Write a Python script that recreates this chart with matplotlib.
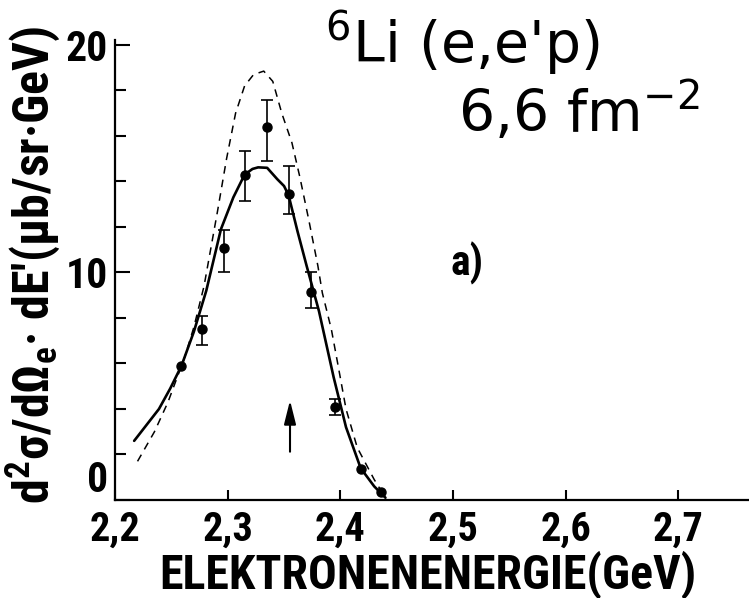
import matplotlib
matplotlib.use("Agg")
import matplotlib.pyplot as plt
from matplotlib import font_manager
from matplotlib.transforms import ScaledTranslation
import numpy as np

# ---- data ----
pt_x = [2.259, 2.277, 2.297, 2.315, 2.335, 2.354, 2.374, 2.395, 2.418, 2.436]
pt_y = [5.9, 7.5, 11.06, 14.3, 16.4, 13.45, 9.16, 4.07, 1.36, 0.35]
err_lo = [0.0, 0.67, 1.03, 1.17, 1.52, 0.9, 0.7, 0.35, 0.0, 0.0]
err_hi = [0.0, 0.59, 0.79, 1.02, 1.17, 1.25, 0.84, 0.36, 0.0, 0.0]

solid_x = [2.217, 2.228, 2.239, 2.249, 2.259, 2.270, 2.281, 2.294, 2.305, 2.315,
           2.322, 2.327, 2.335, 2.344, 2.350, 2.354, 2.362, 2.370, 2.381, 2.394,
           2.405, 2.418, 2.430, 2.440]
solid_y = [2.6, 3.3, 4.0, 4.9, 5.9, 7.4, 9.2, 11.9, 13.3, 14.3,
           14.55, 14.62, 14.6, 14.1, 13.8, 13.4, 11.8, 10.3, 8.3, 5.4,
           3.2, 1.4, 0.6, 0.1]

dash_x = [2.220, 2.235, 2.247, 2.253, 2.262, 2.270, 2.279, 2.291, 2.299, 2.307,
          2.315, 2.323, 2.332, 2.340, 2.348, 2.357, 2.364, 2.372, 2.380, 2.384,
          2.392, 2.398, 2.405, 2.415, 2.430, 2.440]
dash_y = [1.7, 3.0, 4.3, 5.1, 6.3, 7.6, 9.4, 12.7, 15.0, 17.0,
          18.2, 18.7, 18.85, 18.4, 17.0, 15.7, 14.2, 12.3, 10.3, 9.1,
          7.5, 5.9, 4.0, 2.3, 0.9, 0.1]

arrow_x = 2.3553
arrow_y0, arrow_y1 = 2.0, 4.5

x_ticks = [2.2, 2.3, 2.4, 2.5, 2.6, 2.7]
x_labels = ["2,2", "2,3", "2,4", "2,5", "2,6", "2,7"]
y_ticks = [0, 10, 20]
y_labels = ["0", "10", "20"]
y_minor = [2, 4, 6, 8, 12, 14, 16, 18]

# ---- font choice (condensed if available) ----
flist = font_manager.fontManager.ttflist
names = {f.name for f in flist}
cands = ["Roboto Condensed", "Liberation Sans Narrow", "Open Sans Condensed"]
fam = next((c for c in cands if c in names), "DejaVu Sans")
k = 1.0 if fam != "DejaVu Sans" else 0.85
wt = "bold"

plt.rcParams["font.family"] = [fam, "DejaVu Sans"]
plt.rcParams["mathtext.fontset"] = "custom"
spec = f"{fam}:bold"
plt.rcParams["mathtext.rm"] = spec
plt.rcParams["mathtext.it"] = spec
plt.rcParams["mathtext.bf"] = spec

W, H = 749, 598
fig = plt.figure(figsize=(W / 100, H / 100), dpi=100)
ax = fig.add_axes([115 / W, 1 - 500 / H, (W - 115) / W, (500 - 40.4) / H])
ax.set_xlim(2.2, 2.7626)
ax.set_ylim(0, 20.2)

for s in ["top", "right"]:
    ax.spines[s].set_visible(False)
for s in ["left", "bottom"]:
    ax.spines[s].set_linewidth(1.6)

ax.set_xticks(x_ticks)
ax.set_xticklabels(x_labels, fontweight=wt)
ax.set_yticks(y_ticks)
ax.set_yticklabels(y_labels, fontweight=wt)
ax.set_yticks(y_minor, minor=True)
ax.tick_params(axis="x", direction="in", length=7, width=1.5, pad=8, labelsize=29 * k)
ax.tick_params(axis="y", which="major", direction="in", length=11, width=1.5, pad=5, labelsize=30 * k)
ax.tick_params(axis="y", which="minor", direction="in", length=8, width=1.5)

ax.plot(dash_x, dash_y, color="black", lw=1.1, linestyle=(0, (5, 4)))
ax.plot(solid_x, solid_y, color="black", lw=1.9, solid_capstyle="round")

pt_x_a = np.array(pt_x); pt_y_a = np.array(pt_y)
lo = np.array(err_lo); hi = np.array(err_hi)
m = (lo > 0) | (hi > 0)
ax.errorbar(pt_x_a[m], pt_y_a[m], yerr=[lo[m], hi[m]], fmt="none", ecolor="black",
            elinewidth=1.2, capsize=4, capthick=1.2)
ax.plot(pt_x, pt_y, "o", color="black", markersize=6.5)

ax.annotate("", xy=(arrow_x, arrow_y1), xytext=(arrow_x, arrow_y0),
            arrowprops=dict(arrowstyle="-|>,head_width=0.2,head_length=0.8",
                            lw=1.5, color="black", mutation_scale=18))

fig.text(428 / W, 1 - 588 / H, "ELEKTRONENENERGIE(GeV)", ha="center", va="baseline",
         fontsize=34.5 * k, fontweight=wt)
fig.text(33 / W, 1 - 265 / H, "d$^2$σ/dΩ$_\\mathrm{e}$· dE'(μb/sr·GeV)", rotation=90,
         ha="center", va="center", fontsize=36 * k, fontweight=wt)

fig.text(600 / W, 1 - 63 / H, "$^{6}$Li (e,e'p)", ha="right", va="baseline",
         fontsize=41, fontweight="normal", family=["DejaVu Sans"],
         math_fontfamily="dejavusans")
fig.text(700 / W, 1 - 132 / H, "6,6 fm$^{-2}$", ha="right", va="baseline",
         fontsize=41, fontweight="normal", family=["DejaVu Sans"],
         math_fontfamily="dejavusans")
ax.text(2.512, 10.4, "a)", ha="center", va="center", fontsize=30 * k, fontweight=wt)

# the "0" label sits higher in the reference
t0 = ax.yaxis.get_major_ticks()[0].label1
t0.set_transform(t0.get_transform() + ScaledTranslation(0, 24 / 100, fig.dpi_scale_trans))

fig.savefig("out.png", dpi=100)
